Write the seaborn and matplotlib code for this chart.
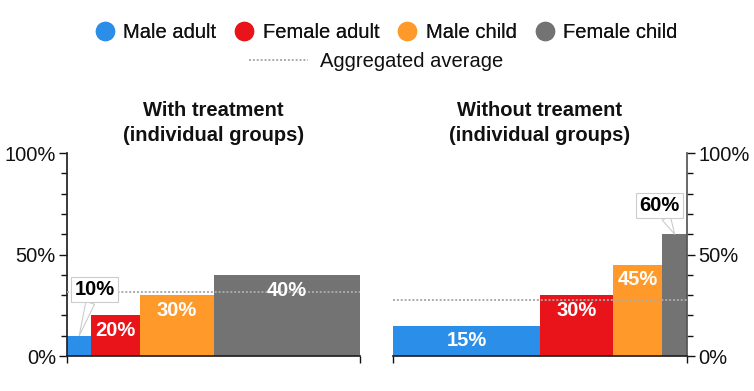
import numpy as np
import matplotlib
matplotlib.use("Agg")
import matplotlib.pyplot as plt
from matplotlib.lines import Line2D
from matplotlib.ticker import MultipleLocator, FixedLocator, PercentFormatter
import seaborn as sns

# data
groups = ["Male adult", "Female adult", "Male child", "Female child"]
colors = ["#2B8EE8", "#E8141A", "#FF9A2A", "#737373"]
with_rates = [0.10, 0.20, 0.30, 0.40]
with_sizes = [1, 2, 3, 6]
without_rates = [0.15, 0.30, 0.45, 0.60]
without_sizes = [6, 3, 2, 1]
titles = ["With treatment\n(individual groups)", "Without treament\n(individual groups)"]

sns.set_theme(style="ticks")
plt.rcParams['font.family'] = ['Liberation Sans', 'DejaVu Sans']
plt.rcParams['text.color'] = '#111111'
plt.rcParams['xtick.color'] = '#111111'
plt.rcParams['ytick.color'] = '#111111'
plt.rcParams['axes.titlecolor'] = '#111111'

FS = 14.5

fig = plt.figure(figsize=(7.54, 3.91), dpi=100)
ax1 = fig.add_axes([0.0889, 0.0895, 0.3886, 0.519])
ax2 = fig.add_axes([0.5212, 0.0895, 0.3899, 0.519])


def draw_panel(ax, rates, sizes, title, callout, side):
    sizes = np.array(sizes, dtype=float)
    rates = np.array(rates)
    lefts = np.concatenate([[0], np.cumsum(sizes)[:-1]])
    total = sizes.sum()
    ax.bar(lefts, rates, width=sizes, align='edge', color=colors, linewidth=0, zorder=2)

    avg = (rates * sizes).sum() / total
    ax.axhline(avg, color='#aaaaaa', ls=(0, (1, 1)), lw=1.4, zorder=3)

    for i, (l, w, r) in enumerate(zip(lefts, sizes, rates)):
        txt = f"{int(round(r * 100))}%"
        cx = l + w / 2
        if i == callout[0]:
            ax.annotate(txt, xy=(cx, r), xytext=callout[1], textcoords='offset points',
                        ha='center', va='center', fontsize=FS, fontweight='bold', color='black',
                        zorder=5,
                        bbox=dict(boxstyle='square,pad=0.15', fc='white', ec='#cccccc', lw=0.8),
                        arrowprops=dict(arrowstyle='wedge,tail_width=0.45', fc='white',
                                        ec='#cccccc', lw=0.8, shrinkA=0, shrinkB=0))
        else:
            ax.annotate(txt, xy=(cx, r), xytext=(0, -11), textcoords='offset points',
                        ha='center', va='center', fontsize=FS, fontweight='bold',
                        color='white', zorder=4)

    ax.set_xlim(0, total)
    ax.set_ylim(0, 1)
    ax.set_xticks([0, total])
    ax.set_xticklabels([])
    ax.yaxis.set_major_locator(FixedLocator([0, 0.5, 1]))
    ax.yaxis.set_minor_locator(MultipleLocator(0.1))
    ax.yaxis.set_major_formatter(PercentFormatter(1.0, decimals=0))
    ax.tick_params(axis='y', which='major', length=6, width=1, labelsize=FS, pad=2)
    ax.tick_params(axis='y', which='minor', length=4, width=1)
    ax.tick_params(axis='x', length=5, width=1)
    ax.set_title(title, fontsize=FS, fontweight='bold', pad=9, linespacing=1.35)
    ax.grid(False)
    if side == 'left':
        sns.despine(ax=ax)
        ax.spines['left'].set_color('#222222')
    else:
        sns.despine(ax=ax, left=True, right=False)
        ax.yaxis.tick_right()
        ax.yaxis.set_label_position('right')
        ax.spines['right'].set_color('#555555')
    ax.spines['bottom'].set_color('#222222')


draw_panel(ax1, with_rates, with_sizes, titles[0], (0, (11, 33)), 'left')
draw_panel(ax2, without_rates, without_sizes, titles[1], (3, (-11, 21)), 'right')

# legends
handles = [Line2D([], [], marker='o', ls='', markersize=13, markerfacecolor=c,
                  markeredgecolor=c) for c in colors]
leg1 = fig.legend(handles, groups, loc='center', bbox_to_anchor=(0.512, 0.918), ncol=4,
                  frameon=False, fontsize=FS, handletextpad=0.4, columnspacing=0.9,
                  handlelength=1.0)
avg_handle = Line2D([], [], color='#aaaaaa', ls=(0, (1, 1)), lw=1.4)
fig.legend([avg_handle], ["Aggregated average"], loc='center', bbox_to_anchor=(0.499, 0.842),
           frameon=False, fontsize=FS, handlelength=2.9, handletextpad=0.6)
fig.add_artist(leg1)

fig.savefig("out.png", dpi=100)
